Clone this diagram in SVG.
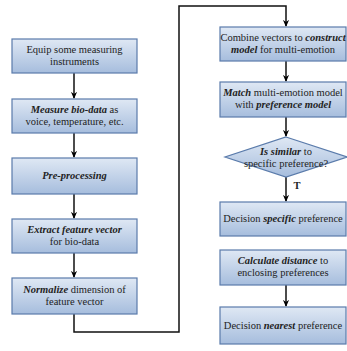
<svg xmlns="http://www.w3.org/2000/svg" width="347" height="351" viewBox="0 0 347 351">
<defs>
<linearGradient id="g" x1="0" y1="0" x2="0" y2="1">
<stop offset="0" stop-color="#dfe8f4"/>
<stop offset="1" stop-color="#a6bddd"/>
</linearGradient>
<marker id="ah" viewBox="0 0 8 8" refX="7" refY="4" markerWidth="7" markerHeight="7" markerUnits="userSpaceOnUse" orient="auto">
<path d="M0,0.5 L8,4 L0,7.5 L2.5,4 Z" fill="#000"/>
</marker>
</defs>
<style>
.b{fill:url(#g);stroke:#5a7bab;stroke-width:1.2}
.t{font-size:10.5px;fill:#222;text-anchor:middle}
.c{fill:none;stroke:#111;stroke-width:1.5}
.a{marker-end:url(#ah)}
</style>
<rect width="347" height="351" fill="#fff"/>
<g id="connectors">
<line class="c a" x1="74" y1="73" x2="74" y2="98"/>
<line class="c a" x1="74" y1="133" x2="74" y2="157"/>
<line class="c a" x1="74" y1="194" x2="74" y2="218"/>
<line class="c a" x1="74" y1="253" x2="74" y2="277"/>
<polyline class="c a" points="74,314 74,332 179,332 179,6 286,6 286,26"/>
<line class="c a" x1="286" y1="61" x2="286" y2="81"/>
<line class="c a" x1="286" y1="117" x2="286" y2="136"/>
<line class="c a" x1="286" y1="177" x2="286" y2="201"/>
<line class="c a" x1="286" y1="285" x2="286" y2="306"/>
</g>
<g font-family="'Liberation Serif', 'DejaVu Serif', serif">
<text class="t" x="297" y="189" font-weight="bold" font-size="10">T</text>
<g id="n1"><rect class="b" x="12" y="39" width="125" height="34"/>
<text class="t" x="74.5" y="53">Equip some measuring</text>
<text class="t" x="74.5" y="65">instruments</text></g>
<g id="n2"><rect class="b" x="12" y="99" width="125" height="34"/>
<text class="t" x="74.5" y="113"><tspan font-weight="bold" font-style="italic">Measure bio-data</tspan> as</text>
<text class="t" x="74.5" y="125">voice, temperature, etc.</text></g>
<g id="n3"><rect class="b" x="12" y="158" width="125" height="36"/>
<text class="t" x="74.5" y="179" font-weight="bold" font-style="italic">Pre-processing</text></g>
<g id="n4"><rect class="b" x="12" y="219" width="125" height="34"/>
<text class="t" x="74.5" y="233" font-weight="bold" font-style="italic">Extract feature vector</text>
<text class="t" x="74.5" y="245">for bio-data</text></g>
<g id="n5"><rect class="b" x="12" y="278" width="125" height="36"/>
<text class="t" x="74.5" y="293"><tspan font-weight="bold" font-style="italic">Normalize</tspan> dimension of</text>
<text class="t" x="74.5" y="305">feature vector</text></g>
<g id="n6"><rect class="b" x="220" y="27" width="126" height="34"/>
<text class="t" x="283" y="41">Combine vectors to <tspan font-weight="bold" font-style="italic">construct</tspan></text>
<text class="t" x="283" y="53"><tspan font-weight="bold" font-style="italic">model</tspan> for multi-emotion</text></g>
<g id="n7"><rect class="b" x="220" y="82" width="126" height="35"/>
<text class="t" x="283" y="96"><tspan font-weight="bold" font-style="italic">Match</tspan> multi-emotion model</text>
<text class="t" x="283" y="108">with <tspan font-weight="bold" font-style="italic">preference model</tspan></text></g>
<g id="n8"><polygon class="b" points="286,137 347,157 286,177 225,157"/>
<text class="t" x="286" y="155"><tspan font-weight="bold" font-style="italic">Is similar</tspan> to</text>
<text class="t" x="286" y="167">specific preference?</text></g>
<g id="n9"><rect class="b" x="220" y="202" width="126" height="34"/>
<text class="t" x="283" y="222">Decision <tspan font-weight="bold" font-style="italic">specific</tspan> preference</text></g>
<g id="n10"><rect class="b" x="220" y="250" width="126" height="35"/>
<text class="t" x="283" y="264"><tspan font-weight="bold" font-style="italic">Calculate distance</tspan> to</text>
<text class="t" x="283" y="276">enclosing preferences</text></g>
<g id="n11"><rect class="b" x="220" y="307" width="126" height="37"/>
<text class="t" x="283" y="329">Decision <tspan font-weight="bold" font-style="italic">nearest</tspan> preference</text></g>
</g>
</svg>
